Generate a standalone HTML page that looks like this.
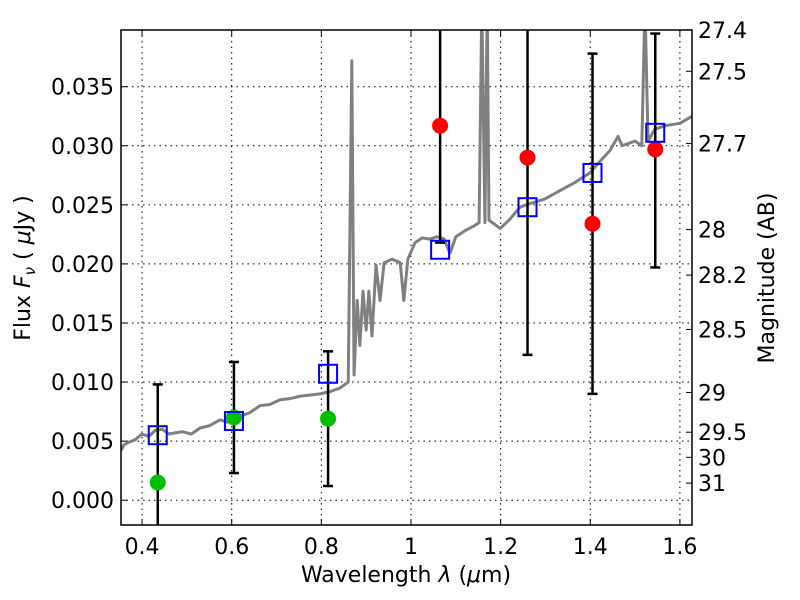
<!DOCTYPE html>
<html><head><meta charset="utf-8"><style>
body{margin:0;background:#fff;}
svg{display:block;font-family:"DejaVu Sans","Liberation Sans",sans-serif;}
</style></head><body>
<svg id="chart" width="800" height="600"></svg>
<script>
const specWave=[0.353,0.360,0.370,0.384,0.400,0.415,0.429,0.445,0.460,0.474,0.490,0.510,0.529,0.550,0.574,0.590,0.605,0.619,0.640,0.663,0.685,0.708,0.730,0.752,0.775,0.797,0.820,0.842,0.860,0.868,0.873,0.880,0.886,0.893,0.900,0.906,0.913,0.922,0.931,0.940,0.958,0.976,0.984,0.993,1.009,1.025,1.042,1.058,1.074,1.087,1.100,1.120,1.140,1.152,1.158,1.165,1.170,1.174,1.199,1.221,1.243,1.265,1.299,1.332,1.366,1.399,1.422,1.444,1.462,1.471,1.500,1.515,1.522,1.529,1.544,1.567,1.600,1.627];
const specFlux=[0.0042,0.0047,0.0049,0.0051,0.0056,0.0054,0.0059,0.0060,0.0056,0.0057,0.0058,0.0056,0.0061,0.0063,0.0068,0.0066,0.0072,0.0071,0.0074,0.0080,0.0081,0.0085,0.0086,0.0088,0.0089,0.0090,0.0092,0.0095,0.0100,0.0372,0.0106,0.0169,0.0131,0.0177,0.0144,0.0177,0.0139,0.0199,0.0169,0.0201,0.0204,0.0201,0.0169,0.0204,0.0218,0.0222,0.0221,0.0223,0.0221,0.0209,0.0223,0.0228,0.0232,0.0235,0.0420,0.0235,0.0420,0.0237,0.0230,0.0238,0.0248,0.0251,0.0255,0.0262,0.0269,0.0277,0.0287,0.0296,0.0308,0.0300,0.0304,0.0300,0.0420,0.0304,0.0314,0.0317,0.0319,0.0325];
const bandWave=[0.435,0.605,0.815,1.065,1.26,1.405,1.545];
const modelFlux=[0.0055,0.0067,0.0107,0.0212,0.0248,0.0277,0.0311];
const errHigh=[0.0098,0.0117,0.0126,0.045,0.045,0.0378,0.0395];
const errLow=[-0.005,0.0023,0.0012,0.0218,0.0123,0.0090,0.0197];
const greenWave=[0.435,0.605,0.815];
const greenFlux=[0.0015,0.0070,0.0069];
const redWave=[1.065,1.26,1.405,1.545];
const redFlux=[0.0317,0.0290,0.0234,0.0297];
const xTicks=[0.4,0.6,0.8,1.0,1.2,1.4,1.6];
const xTickLabels=["0.4","0.6","0.8","1","1.2","1.4","1.6"];
const yTicks=[0,0.005,0.01,0.015,0.02,0.025,0.03,0.035];
const yTickLabels=["0.000","0.005","0.010","0.015","0.020","0.025","0.030","0.035"];
const magTicks=[27.4,27.5,27.7,28,28.2,28.5,29,29.5,30,31];
const magTickLabels=["27.4","27.5","27.7","28","28.2","28.5","29","29.5","30","31"];

const L=121,R=692,T=30,B=525;
const x0=0.353,x1=1.627,y0=-0.0021,y1=0.0398;
const X=v=>L+(v-x0)/(x1-x0)*(R-L);
const Y=v=>B-(v-y0)/(y1-y0)*(B-T);
const NS="http://www.w3.org/2000/svg";
const svg=document.getElementById('chart');
function mk(tag,attrs,parent){const e=document.createElementNS(NS,tag);for(const k in attrs)e.setAttribute(k,attrs[k]);(parent||svg).appendChild(e);return e;}
const defs=mk('defs',{});const cp=mk('clipPath',{id:'clip'},defs);mk('rect',{x:L,y:T,width:R-L,height:B-T},cp);

const grid=mk('g',{stroke:'#000','stroke-width':1,'stroke-dasharray':'1.5,4'});


xTicks.forEach(v=>mk('line',{x1:X(v),x2:X(v),y1:T,y2:B},grid));
yTicks.forEach(v=>mk('line',{x1:L,x2:R,y1:Y(v),y2:Y(v)},grid));

const plot=mk('g',{'clip-path':'url(#clip)'});
const spec=mk('polyline',{points:specWave.map((w,i)=>X(w)+','+Y(specFlux[i])).join(' '),fill:'none',stroke:'#808080','stroke-width':3,'stroke-linejoin':'round'},plot);



bandWave.forEach((w,i)=>{
  const g=mk('g',{stroke:'#000','stroke-width':2.5},plot);
  
  
  mk('line',{x1:X(w),x2:X(w),y1:Y(errHigh[i]),y2:Y(errLow[i])},g);
  mk('line',{x1:X(w)-5,x2:X(w)+5,y1:Y(errHigh[i]),y2:Y(errHigh[i])},g);
  mk('line',{x1:X(w)-5,x2:X(w)+5,y1:Y(errLow[i]),y2:Y(errLow[i])},g);
});
greenWave.forEach((w,i)=>{const c=mk('circle',{cx:X(w),cy:Y(greenFlux[i]),r:8,fill:'#00bf00'},plot);
  
  });
redWave.forEach((w,i)=>{const c=mk('circle',{cx:X(w),cy:Y(redFlux[i]),r:8,fill:'#ff0000'},plot);
  
  });
bandWave.forEach((w,i)=>{const r=mk('rect',{x:X(w)-9,y:Y(modelFlux[i])-9,width:18,height:18,fill:'none',stroke:'#0000ff','stroke-width':2},plot);
  
  });

const frame=mk('rect',{x:L,y:T,width:R-L,height:B-T,fill:'none',stroke:'#000','stroke-width':1.5});



const ticks=mk('g',{stroke:'#000','stroke-width':1});
xTicks.forEach((v,i)=>{mk('line',{x1:X(v),x2:X(v),y1:B,y2:B-6},ticks);mk('line',{x1:X(v),x2:X(v),y1:T,y2:T+6},ticks);
  const t=mk('text',{x:X(v),y:B+29,'text-anchor':'middle','font-size':22,stroke:'none'});t.textContent=xTickLabels[i];
  
  });
yTicks.forEach((v,i)=>{mk('line',{x1:L,x2:L+6,y1:Y(v),y2:Y(v)},ticks);
  const t=mk('text',{x:L-7,y:Y(v)+8,'text-anchor':'end','font-size':22,stroke:'none'});t.textContent=yTickLabels[i];
  
  });
magTicks.forEach((m,i)=>{const f=Math.pow(10,(23.9-m)/2.5);mk('line',{x1:R,x2:R-6,y1:Y(f),y2:Y(f)},ticks);
  const t=mk('text',{x:R+6,y:Y(f)+8,'font-size':22,stroke:'none'});t.textContent=magTickLabels[i];
  
  });

const xt=mk('text',{x:406,y:582,'text-anchor':'middle','font-size':22});xt.innerHTML='Wavelength  <tspan font-style="italic">λ</tspan> (<tspan font-style="italic">μ</tspan>m)';


const yt=mk('text',{x:30,y:268,'text-anchor':'middle','font-size':22,transform:'rotate(-90 30 268)'});yt.innerHTML='Flux  <tspan font-style="italic">F</tspan><tspan font-style="italic" font-size="15" dy="5">ν</tspan><tspan dy="-5">  ( </tspan><tspan font-style="italic">μ</tspan>Jy )';


const mt=mk('text',{x:774,y:278,'text-anchor':'middle','font-size':22,transform:'rotate(-90 774 278)'});mt.textContent='Magnitude (AB)';


</script>
</body></html>
